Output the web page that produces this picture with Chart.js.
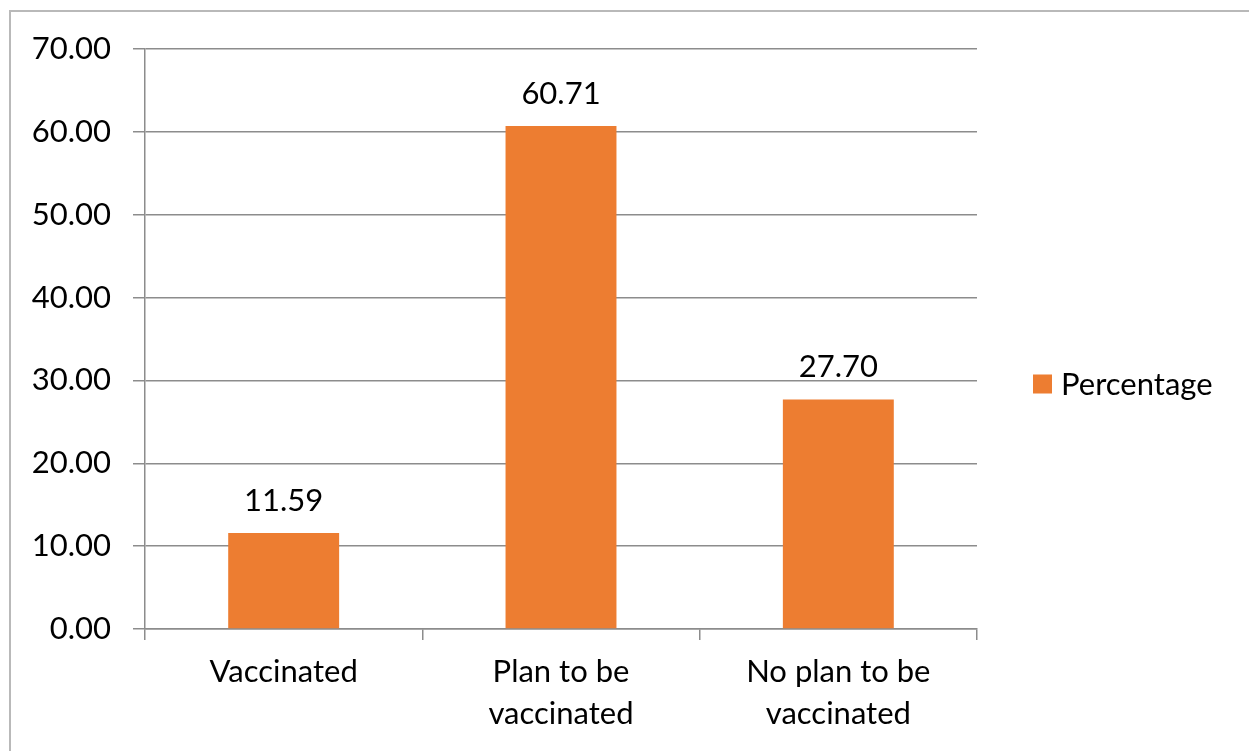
<!DOCTYPE html>
<html>
<head>
<meta charset="utf-8">
<title>Vaccination status</title>
<script src="https://cdn.jsdelivr.net/npm/chart.js@4"></script>
<style>
    html, body {
        margin: 0;
        padding: 0;
        width: 1249px;
        height: 751px;
        overflow: hidden;
        background: #fff;
    }
    #frame {
        position: absolute;
        left: 9px;
        top: 10px;
        width: 1300px;
        height: 800px;
        border: 2px solid #b9b9b9;
    }
    #wrap {
        position: absolute;
        left: 0;
        top: 0;
        width: 1249px;
        height: 751px;
    }
</style>
</head>
<body>
<div id="frame"></div>
<div id="wrap"><canvas id="vaccineChart"></canvas></div>
<script>
// Data
const categories = ['Vaccinated', ['Plan to be', 'vaccinated'], ['No plan to be', 'vaccinated']];
const percentages = [11.59, 60.71, 27.70];
const seriesName = 'Percentage';
const yTicks = [0, 10, 20, 30, 40, 50, 60, 70];

const FONT = 'Lato, "Open Sans", sans-serif';
const FONT_SIZE = 31;
const BAR_COLOR = '#ED7D31';
const GRID_COLOR = '#8c8c8c';

/**
 * Value labels above each bar
 */
const valueLabels = {
    id: 'valueLabels',
    afterDatasetsDraw(chart) {
        const ctx = chart.ctx;
        const meta = chart.getDatasetMeta(0);
        ctx.save();
        ctx.font = FONT_SIZE + 'px ' + FONT;
        ctx.fillStyle = '#000';
        ctx.textAlign = 'center';
        ctx.textBaseline = 'alphabetic';
        meta.data.forEach((bar, i) => {
            const v = chart.data.datasets[0].data[i];
            ctx.fillText(v.toFixed(2), bar.x, bar.y - 22);
        });
        ctx.restore();
    }
};

/**
 * Legend on the right, drawn like the Excel one
 */
const sideLegend = {
    id: 'sideLegend',
    afterDraw(chart) {
        const ctx = chart.ctx;
        const ds = chart.data.datasets[0];
        const x = chart.chartArea.right + 56;
        const cy = 384;
        ctx.save();
        ctx.fillStyle = ds.backgroundColor;
        ctx.fillRect(x, cy - 9.5, 19, 19);
        ctx.font = FONT_SIZE + 'px ' + FONT;
        ctx.fillStyle = '#000';
        ctx.textAlign = 'left';
        ctx.textBaseline = 'middle';
        ctx.fillText(ds.label, x + 28, cy + 1);
        ctx.restore();
    }
};

document.addEventListener('DOMContentLoaded', function () {
    const ctx = document.getElementById('vaccineChart');

    new Chart(ctx, {
        type: 'bar',
        data: {
            labels: categories,
            datasets: [{
                label: seriesName,
                data: percentages,
                backgroundColor: BAR_COLOR,
                borderWidth: 0,
                barPercentage: 0.4,
                categoryPercentage: 1.0,
            }]
        },
        options: {
            responsive: true,
            maintainAspectRatio: false,
            animation: false,
            layout: {
                padding: { top: 49, right: 272, bottom: 0, left: 0 }
            },
            plugins: {
                legend: { display: false },
                tooltip: { enabled: false }
            },
            scales: {
                y: {
                    min: 0,
                    max: 70,
                    afterFit(scale) { scale.width = 145; },
                    afterBuildTicks(scale) {
                        scale.ticks = yTicks.map(v => ({ value: v }));
                    },
                    ticks: {
                        color: '#000',
                        padding: 22,
                        font: { family: FONT, size: FONT_SIZE },
                        callback: v => Number(v).toFixed(2)
                    },
                    grid: {
                        color: GRID_COLOR,
                        lineWidth: 1.5,
                        tickLength: 12
                    },
                    border: { color: GRID_COLOR, width: 1.5 }
                },
                x: {
                    afterFit(scale) { scale.height = 122; },
                    ticks: {
                        color: '#000',
                        padding: 11,
                        font: { family: FONT, size: FONT_SIZE, lineHeight: 1.35 },
                        maxRotation: 0
                    },
                    grid: {
                        offset: true,
                        drawOnChartArea: false,
                        color: GRID_COLOR,
                        lineWidth: 1.5,
                        tickLength: 11
                    },
                    border: { color: GRID_COLOR, width: 1.5 }
                }
            }
        },
        plugins: [valueLabels, sideLegend]
    });
});
</script>
</body>
</html>
